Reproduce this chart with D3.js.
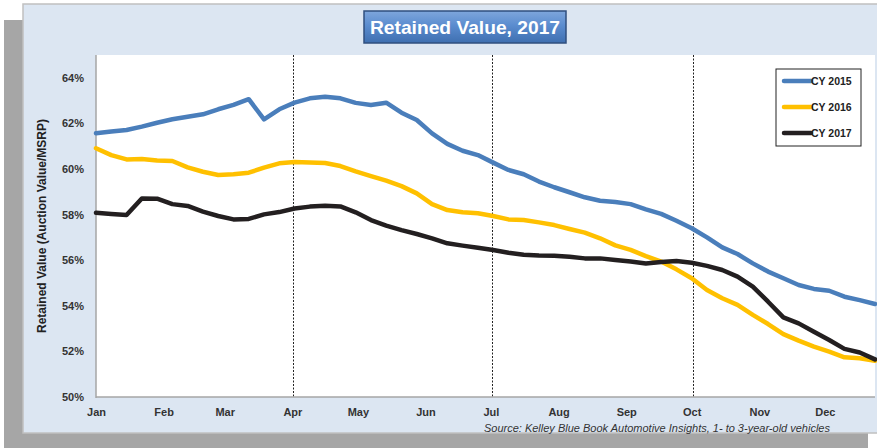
<!DOCTYPE html>
<html>
<head>
<meta charset="utf-8">
<script src="https://cdn.jsdelivr.net/npm/d3@7"></script>
<style>
  body { margin: 0; background: #fff; }
  svg { display: block; }
  text { font-family: "Liberation Sans", Arial, sans-serif; }
</style>
</head>
<body>
<svg></svg>
<script>
var width = 877, height = 448;

// weekly retained value (%), 52 weeks starting Jan 1
var cy2015 = [61.57, 61.64, 61.71, 61.86, 62.03, 62.18, 62.29, 62.40, 62.62, 62.81,
	63.06, 62.18, 62.62, 62.91, 63.10, 63.17, 63.10, 62.90, 62.81, 62.91,
	62.47, 62.15, 61.56, 61.10, 60.80, 60.61, 60.28, 59.96, 59.77, 59.45,
	59.20, 58.98, 58.76, 58.61, 58.55, 58.46, 58.23, 58.03, 57.73, 57.40,
	57.00, 56.56, 56.27, 55.86, 55.50, 55.21, 54.91, 54.74, 54.66, 54.40,
	54.25, 54.08];
var cy2016 = [60.91, 60.61, 60.42, 60.44, 60.37, 60.35, 60.07, 59.88, 59.74, 59.77,
	59.84, 60.06, 60.25, 60.31, 60.29, 60.26, 60.13, 59.90, 59.69, 59.49,
	59.25, 58.93, 58.46, 58.20, 58.10, 58.06, 57.94, 57.79, 57.76, 57.66,
	57.54, 57.37, 57.21, 56.96, 56.65, 56.45, 56.18, 55.94, 55.60, 55.21,
	54.69, 54.33, 54.04, 53.60, 53.20, 52.76, 52.47, 52.21, 51.99, 51.74,
	51.70, 51.59];
var cy2017 = [58.08, 58.03, 57.98, 58.71, 58.70, 58.46, 58.38, 58.13, 57.94, 57.79,
	57.81, 58.01, 58.11, 58.27, 58.35, 58.39, 58.36, 58.10, 57.76, 57.52,
	57.32, 57.15, 56.96, 56.74, 56.64, 56.55, 56.45, 56.33, 56.24, 56.21,
	56.20, 56.15, 56.08, 56.08, 56.01, 55.94, 55.86, 55.92, 55.96, 55.89,
	55.75, 55.57, 55.28, 54.84, 54.18, 53.49, 53.23, 52.86, 52.50, 52.11,
	51.95, 51.65];

var seriesNames = ["CY 2015", "CY 2016", "CY 2017"];
var seriesColors = ["#4a7ebb", "#ffc000", "#231f20"];
var yTicks = [50, 52, 54, 56, 58, 60, 62, 64];
var monthLabels = ["Jan", "Feb", "Mar", "Apr", "May", "Jun", "Jul", "Aug", "Sep", "Oct", "Nov", "Dec"];
var quarterMarks = [3, 6, 9]; // month index of dashed separators

var weeks = d3.timeWeek.range(new Date(2017, 0, 1), new Date(2017, 11, 25));
var months = d3.timeMonth.range(new Date(2017, 0, 1), new Date(2017, 11, 2));

var svg = d3.select("svg")
	.attr("width", width)
	.attr("height", height);

// drop shadow + panel
svg.append("rect").attr("x", 4).attr("y", 20).attr("width", 864).attr("height", 440).attr("fill", "#a6a6a6");
svg.append("rect").attr("x", 23).attr("y", 4).attr("width", 880).attr("height", 429)
	.attr("fill", "#dce6f2").attr("stroke", "#c0c0c0").attr("stroke-width", 1.5);

var plot = {left: 96, right: 875, top: 55, bottom: 397};

svg.append("rect")
	.attr("x", plot.left).attr("y", plot.top)
	.attr("width", plot.right - plot.left).attr("height", plot.bottom - plot.top)
	.attr("fill", "#fff");

var x = d3.scaleTime()
	.domain([new Date(2017, 0, 1), new Date(2017, 11, 24)])
	.range([plot.left, plot.right]);

var y = d3.scaleLinear()
	.domain([50, 65])
	.range([plot.bottom, plot.top]);

// quarter separators
svg.append("g").selectAll("line")
	.data(quarterMarks)
	.enter()
	.append("line")
	.attr("x1", function(d) { return Math.round(x(months[d])) + 1.5; })
	.attr("x2", function(d) { return Math.round(x(months[d])) + 1.5; })
	.attr("y1", plot.top)
	.attr("y2", plot.bottom)
	.attr("stroke", "#222")
	.attr("stroke-width", 1)
	.attr("stroke-dasharray", "2,1.5");

// axis lines
svg.append("line").attr("x1", plot.left).attr("x2", plot.left)
	.attr("y1", plot.top).attr("y2", plot.bottom + 1)
	.attr("stroke", "#a6a6a6").attr("stroke-width", 1.5);
svg.append("line").attr("x1", plot.left).attr("x2", plot.right)
	.attr("y1", plot.bottom).attr("y2", plot.bottom)
	.attr("stroke", "#a6a6a6").attr("stroke-width", 1.5);

// y tick labels
var yAxis = svg.append("g")
	.attr("transform", "translate(" + plot.left + ",0)")
	.call(d3.axisLeft(y).tickValues(yTicks).tickSize(0).tickPadding(12)
		.tickFormat(function(d) { return d + "%"; }));
yAxis.select(".domain").remove();
yAxis.selectAll("text")
	.attr("font-family", "Liberation Sans, Arial, sans-serif")
	.attr("font-size", 11).attr("font-weight", "bold").attr("fill", "#333");

// x tick labels
var xAxis = svg.append("g")
	.attr("transform", "translate(0," + plot.bottom + ")")
	.call(d3.axisBottom(x).tickValues(months).tickSize(0).tickPadding(11)
		.tickFormat(function(d, i) { return monthLabels[i]; }));
xAxis.select(".domain").remove();
xAxis.selectAll("text")
	.attr("font-family", "Liberation Sans, Arial, sans-serif")
	.attr("font-size", 11).attr("font-weight", "bold").attr("fill", "#333");

// y axis title
svg.append("text")
	.attr("transform", "translate(46," + ((plot.top + plot.bottom) / 2) + ") rotate(-90)")
	.attr("text-anchor", "middle")
	.attr("font-size", 12).attr("font-weight", "bold").attr("fill", "#222")
	.text("Retained Value (Auction Value/MSRP)");

// lines
var line = d3.line()
	.x(function(d, i) { return x(weeks[i]); })
	.y(function(d) { return y(d); });

svg.append("g").selectAll("path")
	.data([cy2015, cy2016, cy2017])
	.enter()
	.append("path")
	.attr("d", line)
	.attr("fill", "none")
	.attr("stroke", function(d, i) { return seriesColors[i]; })
	.attr("stroke-width", 4.5)
	.attr("stroke-linejoin", "round")
	.attr("stroke-linecap", "round");

// legend
var legend = svg.append("g").attr("transform", "translate(776,69)");
legend.append("rect").attr("width", 85).attr("height", 77)
	.attr("fill", "#fff").attr("stroke", "#222").attr("stroke-width", 1);
var item = legend.selectAll("g")
	.data(seriesNames)
	.enter()
	.append("g")
	.attr("transform", function(d, i) { return "translate(0," + (12 + i * 26) + ")"; });
item.append("line")
	.attr("x1", 8).attr("x2", 35).attr("y1", 0).attr("y2", 0)
	.attr("stroke", function(d, i) { return seriesColors[i]; })
	.attr("stroke-width", 4.5).attr("stroke-linecap", "round");
item.append("text")
	.attr("x", 35).attr("y", 4)
	.attr("font-size", 10.5).attr("font-weight", "bold").attr("fill", "#222")
	.text(function(d) { return d; });

// title box
var grad = svg.append("defs").append("linearGradient")
	.attr("id", "titleGrad").attr("x1", 0).attr("x2", 0).attr("y1", 0).attr("y2", 1);
grad.append("stop").attr("offset", "0%").attr("stop-color", "#7ea6dc");
grad.append("stop").attr("offset", "45%").attr("stop-color", "#5a8ccf");
grad.append("stop").attr("offset", "100%").attr("stop-color", "#3f6fb0");
svg.append("rect").attr("x", 364).attr("y", 11).attr("width", 202).attr("height", 32)
	.attr("fill", "url(#titleGrad)").attr("stroke", "#2f4f7f").attr("stroke-width", 1.5);
svg.append("text")
	.attr("x", 465).attr("y", 34)
	.attr("text-anchor", "middle")
	.attr("font-size", 19).attr("font-weight", "bold").attr("fill", "#fff")
	.attr("textLength", 190).attr("lengthAdjust", "spacingAndGlyphs")
	.text("Retained Value, 2017");

// source note
svg.append("text")
	.attr("x", 830).attr("y", 432)
	.attr("text-anchor", "end")
	.attr("font-size", 11).attr("font-style", "italic").attr("fill", "#333")
	.text("Source: Kelley Blue Book Automotive Insights, 1- to 3-year-old vehicles");
</script>
</body>
</html>
